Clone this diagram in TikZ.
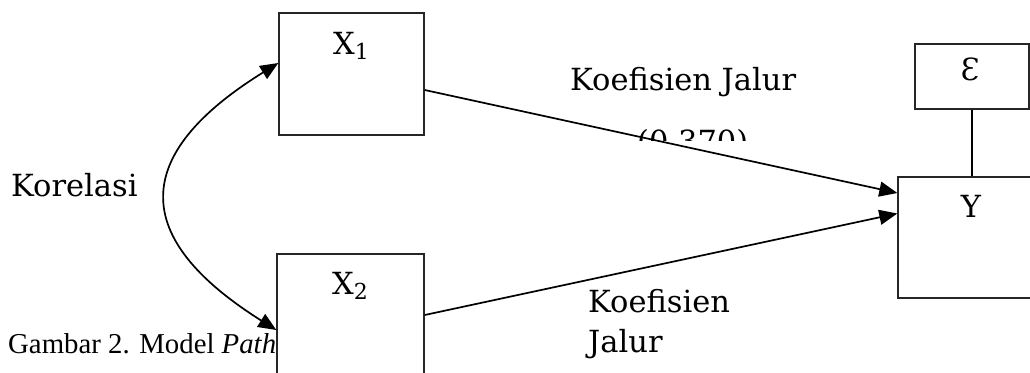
\documentclass[tikz,border=0pt]{standalone}
\usepackage{fontspec}
\setmainfont{DejaVu Serif}
\newfontfamily\capfont{Liberation Serif}
\usetikzlibrary{arrows.meta}
\tikzset{
  boxnode/.style={draw=black!85, line width=1.4pt, rectangle, inner sep=0pt, fill=none},
  lbl/.style={font=\fontsize{30.5}{32}\selectfont, inner sep=0pt},
  conn/.style={line width=1.7pt, -{Triangle[length=18pt,width=15pt]}},
  biconn/.style={line width=1.7pt, {Triangle[length=18pt,width=15pt]}-{Triangle[length=18pt,width=15pt]}},
}
\newcommand{\subn}[1]{{\fontsize{22}{22}\selectfont\raisebox{-5pt}{#1}}}
\begin{document}
\begin{tikzpicture}[x=1pt,y=-1pt]
\clip (0,0) rectangle (1030,372);
\fill[white] (0,0) rectangle (1030,372);
% caption (behind boxes)
\node[font=\capfont\fontsize{28.8}{30}\selectfont, inner sep=0pt, anchor=base west] (cap) at (8,353) {Gambar 2. Model \textit{Path}};
% boxes
\node[boxnode, minimum width=145pt, minimum height=122pt] (x1) at (351.5,74) {};
\node[boxnode, minimum width=147pt, minimum height=122pt] (x2) at (350.5,315) {};
\node[boxnode, minimum width=148pt, minimum height=121pt] (y) at (972,237.5) {};
\node[boxnode, minimum width=114pt, minimum height=65pt] (e) at (972,76.5) {};
% labels
\node[lbl, anchor=base west] (lx1) at (333,54) {X\subn{1}};
\node[lbl, anchor=base west] (lx2) at (332,294) {X\subn{2}};
\node[lbl, anchor=base] (ly) at (971,217) {Y};
\node[lbl, anchor=base] (le) at (970,80) {Ɛ};
\node[lbl, anchor=base west] (kor) at (11,196) {Korelasi};
\node[lbl, anchor=base west] (k1) at (570,90) {Koefisien Jalur};
\begin{scope}
\clip (600,100) rectangle (780,140);
\node[lbl, anchor=base west] (k1v) at (637,152) {(0,370)};
\end{scope}
\node[lbl, anchor=base west] (k2a) at (588,312) {Koefisien};
\node[lbl, anchor=base west] (k2b) at (588,352) {Jalur};
% connectors
\draw[conn] ([yshift=-16pt]x1.east) -- ([yshift=44.5pt]y.west);
\draw[conn] (x2.east) -- ([yshift=24pt]y.west);
\draw[line width=1.6pt] (e.south) -- (y.north);
\draw[biconn] ([yshift=11pt]x1.west) .. controls (130,155) and (130,238) .. ([yshift=-15pt]x2.west);
\end{tikzpicture}
\end{document}
